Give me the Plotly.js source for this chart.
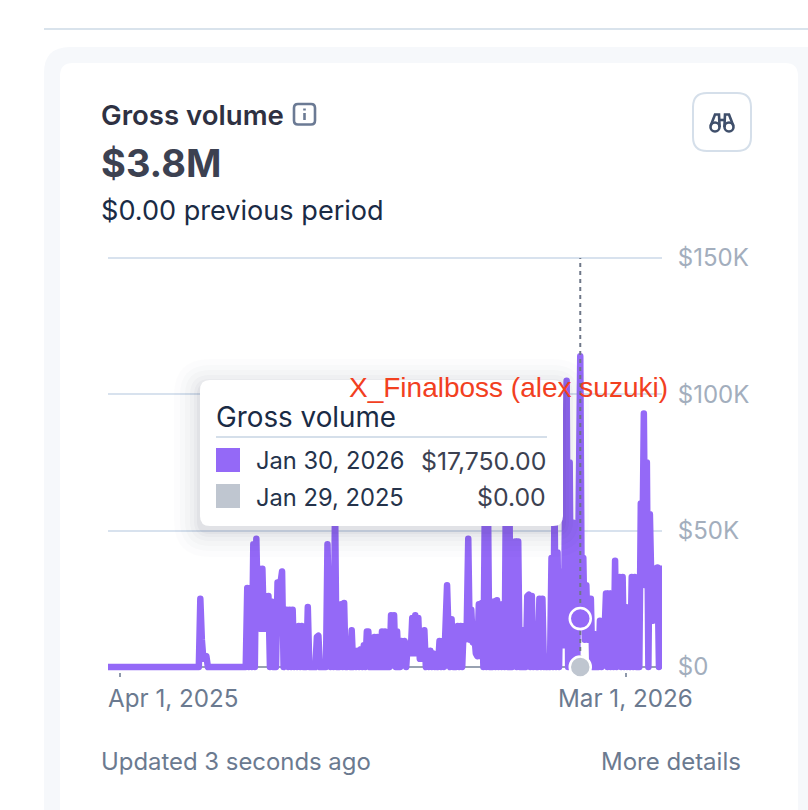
<!DOCTYPE html>
<html>
<head>
<meta charset="utf-8">
<script src="https://cdn.plot.ly/plotly-3.0.1.min.js"></script>
<style>html,body{margin:0;padding:0;background:#fff;overflow:hidden}
.js-line{stroke-linejoin:round !important}</style>
</head>
<body>
<div id="chart" style="width:808px;height:810px"></div>
<script>
// Daily gross volume, thousands of dollars, from 2025-03-24 to 2026-03-25
const grossVolumeK = [
0,0,0,0,0,0,0,0,0,0,
0,0,0,0,0,0,0,0,0,0,
0,0,0,0,0,0,0,0,0,0,
0,0,0,0,0,0,0,0,0,0,
0,0,0,0,0,0,0,0,0,0,
0,0,0,0,0,0,0,0,0,0,
0,25,10,3,3,4,0,0,0,0,
0,0,0,0,0,0,0,0,0,0,
0,0,0,0,0,0,0,0,0,0,
0,0,29,0,29,0,45,0,47,20,
36,14,36,14,26,14,26,0,24,0,
11,0,31,14,31,35,0,12,21,0,
21,0,21,0,9,0,15,0,15,0,
0,0,22,0,0,0,0,0,11,11.5,
0,0,0,0,0,45,20,0,30,0,
60,0,0,0,23,0,23.5,0,0,8,
0,13.5,0,6,0,6,0,6.5,0,8,
0,13,13,0,10,0,11,0,11,0,
0,13,0,13,0,11,0,19,5,19,
0,13,0,0,9.5,5,9.5,0,8.5,5,
5,18,5,19,5,18,3,13,3,13.5,
0,6,0,6,0,5,0,4,0,9.5,
0,9.5,0,15,30,12,0,17.5,0,0,
0,15,0,15,0,15,10,15,47,10,
21,9,12,5,4,23,4,23.5,0,62,
0,62,0,12,0,24,0,24.5,0,23,
0,23,0,75,0,80,0,0,20,46,
0,46,0,13.5,0,13.5,0,26,26.5,0,
26,0,9.5,0,0,25,0,25,0,4,
0,4,0,40,0,60,0,42,0,35,
8,8,60,105,0,75,0,53,0,48,
0,60,114,20,40,10,30,10,25,25,
0,12,0,12,0,17,0,12,12,27,
0,27,0,27,0,39,0,30,33,0,
33,0,22,0,3,0,33,0,33,0,
0,0,60,40,93,30,75,0,56,30,
17,36,20,36.5,0,36,36
];
const startDate = '2025-03-24';
const previousDates = ['2025-03-24', '2026-03-25'];
const previousValuesK = [0, 0];
const hoverDate = '2026-01-30';
const hoverValueK = 17.75;
const hoverPreviousK = 0;
const yTickVals = [0, 50, 100, 150];
const yTickText = ['$0', '$50K', '$100K', '$150K'];
const xTickVals = ['2025-04-01', '2026-03-01'];
const xTickText = ['Apr 1, 2025', 'Mar 1, 2026'];

const dates = grossVolumeK.map((_, i) => {
  const d = new Date(startDate + 'T00:00:00Z');
  d.setUTCDate(d.getUTCDate() + i);
  return d.toISOString().slice(0, 10);
});

const W = 808, H = 810;
const fx = x => x / W, fy = y => 1 - y / H;
const FONT = 'Inter, "Noto Sans", sans-serif';
const PURPLE = '#9469F7';

function rr(x0, y0, x1, y1, r) {
  const p = (x, y) => fx(x) + ',' + fy(y);
  return 'M' + p(x0 + r, y0) + ' L' + p(x1 - r, y0) + ' Q' + p(x1, y0) + ' ' + p(x1, y0 + r) +
    ' L' + p(x1, y1 - r) + ' Q' + p(x1, y1) + ' ' + p(x1 - r, y1) +
    ' L' + p(x0 + r, y1) + ' Q' + p(x0, y1) + ' ' + p(x0, y1 - r) +
    ' L' + p(x0, y0 + r) + ' Q' + p(x0, y0) + ' ' + p(x0 + r, y0) + ' Z';
}
const paper = {xref: 'paper', yref: 'paper'};
const box = (x0, y0, x1, y1, r, fill, lineColor, lineWidth, layer, opacity) => Object.assign({
  type: 'path', path: rr(x0, y0, x1, y1, r), fillcolor: fill,
  line: {color: lineColor || 'rgba(0,0,0,0)', width: lineWidth || 0},
  layer: layer || 'above', opacity: opacity === undefined ? 1 : opacity
}, paper);
const seg = (x0, y0, x1, y1, color, width, layer) => Object.assign({
  type: 'line', x0: fx(x0), y0: fy(y0), x1: fx(x1), y1: fy(y1),
  line: {color, width}, layer: layer || 'above'
}, paper);
const circ = (cx, cy, r, color, width, fill) => Object.assign({
  type: 'circle', x0: fx(cx - r), x1: fx(cx + r), y0: fy(cy - r), y1: fy(cy + r),
  line: {color, width}, fillcolor: fill || 'rgba(0,0,0,0)', layer: 'above'
}, paper);
const poly = (pts, color, width) => Object.assign({
  type: 'path', path: pts.map((q, i) => (i ? 'L' : 'M') + fx(q[0]) + ',' + fy(q[1])).join(' '),
  line: {color, width}, fillcolor: 'rgba(0,0,0,0)', layer: 'above'
}, paper);

const shapes = [
  seg(44, 29, 808, 29, '#d9e3ec', 2, 'below'),
  box(44, 47, 840, 860, 26, '#f6f8fb', null, 0, 'below'),
  box(60, 63, 798, 860, 13, '#ffffff', null, 0, 'below'),
  // info icon
  box(294, 104, 315, 124.5, 4, 'rgba(0,0,0,0)', '#6b7a94', 2.6),
  seg(304.5, 113, 304.5, 120, '#6b7a94', 2.6),
  seg(304.5, 108.5, 304.5, 110.5, '#6b7a94', 2.6),
  // binoculars button
  box(693, 93, 751, 151, 14, '#ffffff', '#d5dfea', 2),
  circ(715, 127, 4.5, '#3f4f6b', 2.6),
  circ(729, 127, 4.5, '#3f4f6b', 2.6),
  poly([[710.6, 126], [715, 114.5], [719, 114.5], [719.6, 127]], '#3f4f6b', 2.6),
  poly([[733.4, 126], [729, 114.5], [725, 114.5], [724.4, 127]], '#3f4f6b', 2.6),
  seg(719, 120, 725, 120, '#3f4f6b', 2.6)
];
// tooltip soft shadow
[[26, .012], [20, .014], [15, .018], [10, .022], [6, .028], [3, .035]].forEach(s => {
  shapes.push(box(200 - s[0], 380 - s[0] + 5, 563 + s[0], 526 + s[0] + 5, 10 + s[0], '#1f2a44', null, 0, 'above', s[1]));
});
shapes.push(
  box(200, 380, 563, 526, 10, '#ffffff'),
  seg(216, 437, 547, 437, '#d5dfea', 2),
  box(216, 448, 240, 472, 0, PURPLE),
  box(216, 484, 240, 508, 0, '#bfc6d0')
);

const note = (text, x, y, anchor, size, color, weight, family) => ({
  xref: 'paper', yref: 'paper', x: fx(x), y: fy(y), xanchor: anchor, yanchor: 'middle',
  text, showarrow: false, borderpad: 0,
  font: {family: family || FONT, size, color, weight: weight || 400}
});
const annotations = [
  note('Gross volume', 99.5, 114.5, 'left', 27.6, '#2e3142', 600),
  note('$3.8M', 99.5, 163, 'left', 38, '#3c4151', 700),
  note('$0.00 previous period', 99.5, 210, 'left', 27.1, '#1a2b45'),
  note(xTickText[0], 106.5, 698, 'left', 24.2, '#6b7a90'),
  note(xTickText[1], 625, 698, 'center', 24.2, '#6b7a90'),
  note('Updated 3 seconds ago', 99.5, 761, 'left', 23.9, '#6b7a90'),
  note('More details', 742, 761, 'right', 24, '#6b7a90'),
  note('Gross volume', 214.5, 416.5, 'left', 27.8, '#1a2b45'),
  note('Jan 30, 2026', 254.5, 461, 'left', 23.7, '#25334b'),
  note('Jan 29, 2025', 254.5, 497, 'left', 23.7, '#25334b'),
  note('$17,750.00', 547, 461, 'right', 24.8, '#3c4151'),
  note('$0.00', 547, 497, 'right', 24.8, '#3c4151'),
  note('X_Finalboss (alex suzuki)', 347.5, 388, 'left', 28, '#f2401f', 400, '"Liberation Sans", Arial, sans-serif')
];

const traces = [
  {x: previousDates, y: previousValuesK, mode: 'lines', line: {color: '#98a2b1', width: 2}, cliponaxis: false, hoverinfo: 'skip'},
  {x: dates, y: grossVolumeK, mode: 'lines', line: {color: PURPLE, width: 6.5, simplify: false}, cliponaxis: false, hoverinfo: 'skip'},
  {x: [hoverDate, hoverDate], y: [0, 150], mode: 'lines', line: {color: '#6f7889', width: 2, dash: '4px,4px'}, cliponaxis: false, hoverinfo: 'skip'},
  {x: [hoverDate], y: [hoverPreviousK], mode: 'markers', marker: {size: 21, color: '#bfc6d0', line: {color: '#ffffff', width: 2.5}}, cliponaxis: false, hoverinfo: 'skip'},
  {x: [hoverDate], y: [hoverValueK], mode: 'markers', marker: {size: 21, color: PURPLE, line: {color: '#ffffff', width: 2.5}}, cliponaxis: false, hoverinfo: 'skip'}
];

const layout = {
  width: W, height: H,
  margin: {l: 0, r: 0, t: 0, b: 0},
  paper_bgcolor: '#ffffff', plot_bgcolor: 'rgba(0,0,0,0)',
  showlegend: false,
  xaxis: {
    type: 'date', domain: [108 / W, 662 / W],
    range: [startDate, '2026-03-25'],
    tickmode: 'array', tickvals: xTickVals, showticklabels: false,
    ticks: 'outside', ticklen: 4, tickwidth: 2, tickcolor: '#8e99ab',
    showgrid: false, zeroline: false, showline: false
  },
  yaxis: {
    domain: [1 - 672.45 / H, 1 - 252.55 / H],
    range: [-2, 152], side: 'right',
    tickmode: 'array', tickvals: yTickVals, ticktext: yTickText,
    ticks: 'outside', ticklen: 10, tickcolor: 'rgba(0,0,0,0)',
    tickfont: {family: FONT, size: 24, color: '#a3aebd'},
    showgrid: true, gridcolor: '#d8e2ee', gridwidth: 2,
    zeroline: false, showline: false
  },
  shapes, annotations
};
Plotly.newPlot('chart', traces, layout, {displayModeBar: false, staticPlot: true});
</script>
</body>
</html>
